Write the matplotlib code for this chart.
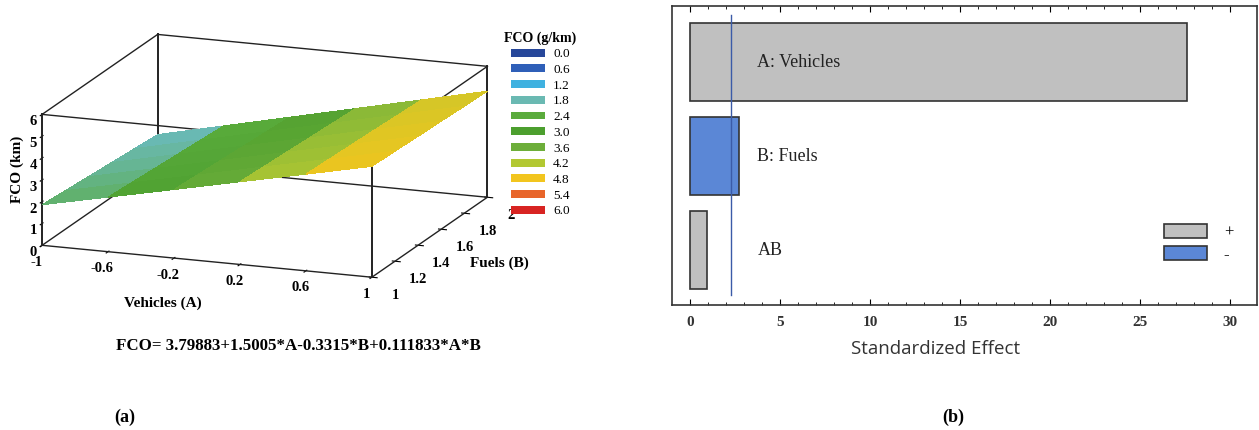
import numpy as np
import matplotlib
matplotlib.use("Agg")
import matplotlib.pyplot as plt
from matplotlib.colors import LinearSegmentedColormap
from matplotlib.patches import Patch

# ---------------- data ----------------
vehicles_A = [-1.0, -0.6, -0.2, 0.2, 0.6, 1.0]
fuels_B = [1.0, 1.2, 1.4, 1.6, 1.8, 2.0]
# FCO surface values, rows = fuels_B, cols = vehicles_A
fco_vals = [
    [1.86, 2.50, 3.14, 3.79, 4.43, 5.08],
    [1.77, 2.42, 3.07, 3.73, 4.38, 5.04],
    [1.68, 2.34, 3.00, 3.67, 4.33, 4.99],
    [1.59, 2.26, 2.93, 3.60, 4.28, 4.95],
    [1.50, 2.18, 2.86, 3.54, 4.22, 4.90],
    [1.41, 2.10, 2.79, 3.48, 4.17, 4.86],
]
legend_levels = ["0.0", "0.6", "1.2", "1.8", "2.4", "3.0", "3.6", "4.2", "4.8", "5.4", "6.0"]
legend_colors = ["#27479a", "#2f5fb8", "#3fb1e0", "#6ab9b2", "#5aab3c", "#4c9f2e",
                 "#6dae3a", "#b2c832", "#f2c51e", "#e8652a", "#d82422"]
x_ticks_A = [-1, -0.6, -0.2, 0.2, 0.6, 1]
y_ticks_B = [1, 1.2, 1.4, 1.6, 1.8, 2]
z_ticks = [0, 1, 2, 3, 4, 5, 6]
equation = "FCO= 3.79883+1.5005*A-0.3315*B+0.111833*A*B"

effects = ["A: Vehicles", "B: Fuels", "AB"]
effect_values = [27.6, 2.75, 0.95]
effect_signs = ["+", "-", "+"]
crit_value = 2.28
x_ticks_b = [0, 5, 10, 15, 20, 25, 30]

# ---------------- figure ----------------
fig = plt.figure(figsize=(12.59, 4.30), dpi=100)
serif = "Liberation Serif"

# ---- (a) 3D surface ----
ax3 = fig.add_axes([-0.0054, 0.006, 0.42, 1.23], projection="3d")
ax3.set_proj_type("ortho")
ax3.view_init(elev=15, azim=-69.5)
ax3.set_box_aspect((1.0, 0.937, 0.385), zoom=0.92)

A, B = np.meshgrid(vehicles_A, fuels_B)
Z = np.array(fco_vals)
cmap = LinearSegmentedColormap.from_list("fco", legend_colors)
norm = plt.Normalize(0, 6)
fc = cmap(norm(0.25 * (Z[:-1, :-1] + Z[1:, :-1] + Z[:-1, 1:] + Z[1:, 1:])))
ax3.plot_surface(A, B, Z, facecolors=fc, shade=False, linewidth=0, antialiased=False)

xl, yl, zl = (-1, 1), (1, 2), (0, 6)
ax3.set_xlim(*xl); ax3.set_ylim(*yl); ax3.set_zlim(*zl)
# box edges
for y0 in yl:
    for z0 in zl:
        ax3.plot(xl, [y0, y0], [z0, z0], color="#222222", lw=1.0)
for x0 in xl:
    for z0 in zl:
        ax3.plot([x0, x0], yl, [z0, z0], color="#222222", lw=1.0)
for x0 in xl:
    for y0 in yl:
        ax3.plot([x0, x0], [y0, y0], zl, color="#222222", lw=1.4)

for axis in (ax3.xaxis, ax3.yaxis, ax3.zaxis):
    axis.set_pane_color((1, 1, 1, 0))
    axis.line.set_color((0, 0, 0, 0))
ax3.grid(False)
ax3.set_xticks(x_ticks_A)
ax3.set_xticklabels([f"{v:g}" for v in x_ticks_A])
ax3.set_yticks(y_ticks_B)
ax3.set_yticklabels([f"{v:g}" for v in y_ticks_B])
ax3.set_zticks(z_ticks)
ax3.zaxis.set_ticks_position("lower")
for lab in ax3.get_xticklabels() + ax3.get_yticklabels() + ax3.get_zticklabels():
    lab.set_fontfamily(serif); lab.set_fontweight("bold"); lab.set_fontsize(10.5)
ax3.xaxis.set_tick_params(pad=2)
ax3.yaxis.set_tick_params(pad=6)
ax3.zaxis.set_tick_params(pad=-4)

fig.text(0.129, 0.295, "Vehicles (A)", ha="center", va="center", fontfamily=serif,
         fontweight="bold", fontsize=11)
fig.text(0.397, 0.388, "Fuels (B)", ha="center", va="center", fontfamily=serif,
         fontweight="bold", fontsize=11)
fig.text(0.014, 0.605, "FCO (km)", ha="center", va="center", rotation=90,
         fontfamily=serif, fontweight="bold", fontsize=11)

# legend of colour levels
handles = [Patch(facecolor=c, edgecolor="none") for c in legend_colors]
fig.legend(handles, legend_levels, loc="upper left", bbox_to_anchor=(0.391, 0.955),
           frameon=False, title="FCO (g/km)", handlelength=2.6, handleheight=0.55,
           labelspacing=0.28, handletextpad=0.6,
           prop=dict(family=serif, size=9.5),
           title_fontproperties=dict(family=serif, weight="bold", size=10))

fig.text(0.2367, 0.195, equation, ha="center", va="center", fontfamily=serif,
         fontweight="bold", fontsize=12.2)
fig.text(0.099, 0.03, "(a)", ha="center", va="center", fontfamily=serif,
         fontweight="bold", fontsize=13)
fig.text(0.757, 0.03, "(b)", ha="center", va="center", fontfamily=serif,
         fontweight="bold", fontsize=13)

# ---- (b) Pareto chart ----
axb = fig.add_axes([672 / 1259, 1 - 305 / 430, 585 / 1259, 299 / 430])
pos = np.arange(len(effects))
bar_colors = ["#c0c0c0" if s == "+" else "#5b87d6" for s in effect_signs]
axb.barh(pos, effect_values, height=0.82, color=bar_colors, edgecolor="#333333", lw=1.2)
for p, name in zip(pos, effects):
    axb.text(3.75, p, name, ha="left", va="center", fontfamily=serif, fontsize=13,
             color="#222222")
axb.axvline(crit_value, ymin=0.033, ymax=0.97, color="#3b5ba8", lw=1.0)
axb.set_xlim(-1, 31.5)
axb.set_ylim(2.585, -0.596)
axb.set_yticks([])
axb.set_xticks(x_ticks_b)
axb.set_xticks(np.arange(0, 31, 1), minor=True)
axb.tick_params(axis="x", which="both", direction="in", top=True, bottom=True,
                labelsize=11, pad=8)
axb.tick_params(axis="x", which="major", length=4)
axb.tick_params(axis="x", which="minor", length=2)
for lab in axb.get_xticklabels():
    lab.set_fontfamily(serif); lab.set_fontweight("bold"); lab.set_color("#333333")
for sp in axb.spines.values():
    sp.set_color("#333333"); sp.set_linewidth(1.2)
axb.set_xlabel("Standardized Effect", fontfamily="Open Sans", fontsize=13.5,
               color="#333333")
axb.xaxis.set_label_coords(0.451, -0.118)
lh = [Patch(facecolor="#c0c0c0", edgecolor="#333333", lw=1.2),
      Patch(facecolor="#5b87d6", edgecolor="#333333", lw=1.2)]
axb.legend(lh, ["+", "-"], loc="lower right", bbox_to_anchor=(0.985, 0.09),
           frameon=False, handlelength=2.6, handleheight=0.9, labelspacing=0.35,
           handletextpad=1.0, prop=dict(family=serif, size=12))

fig.savefig("out.png", dpi=100)
